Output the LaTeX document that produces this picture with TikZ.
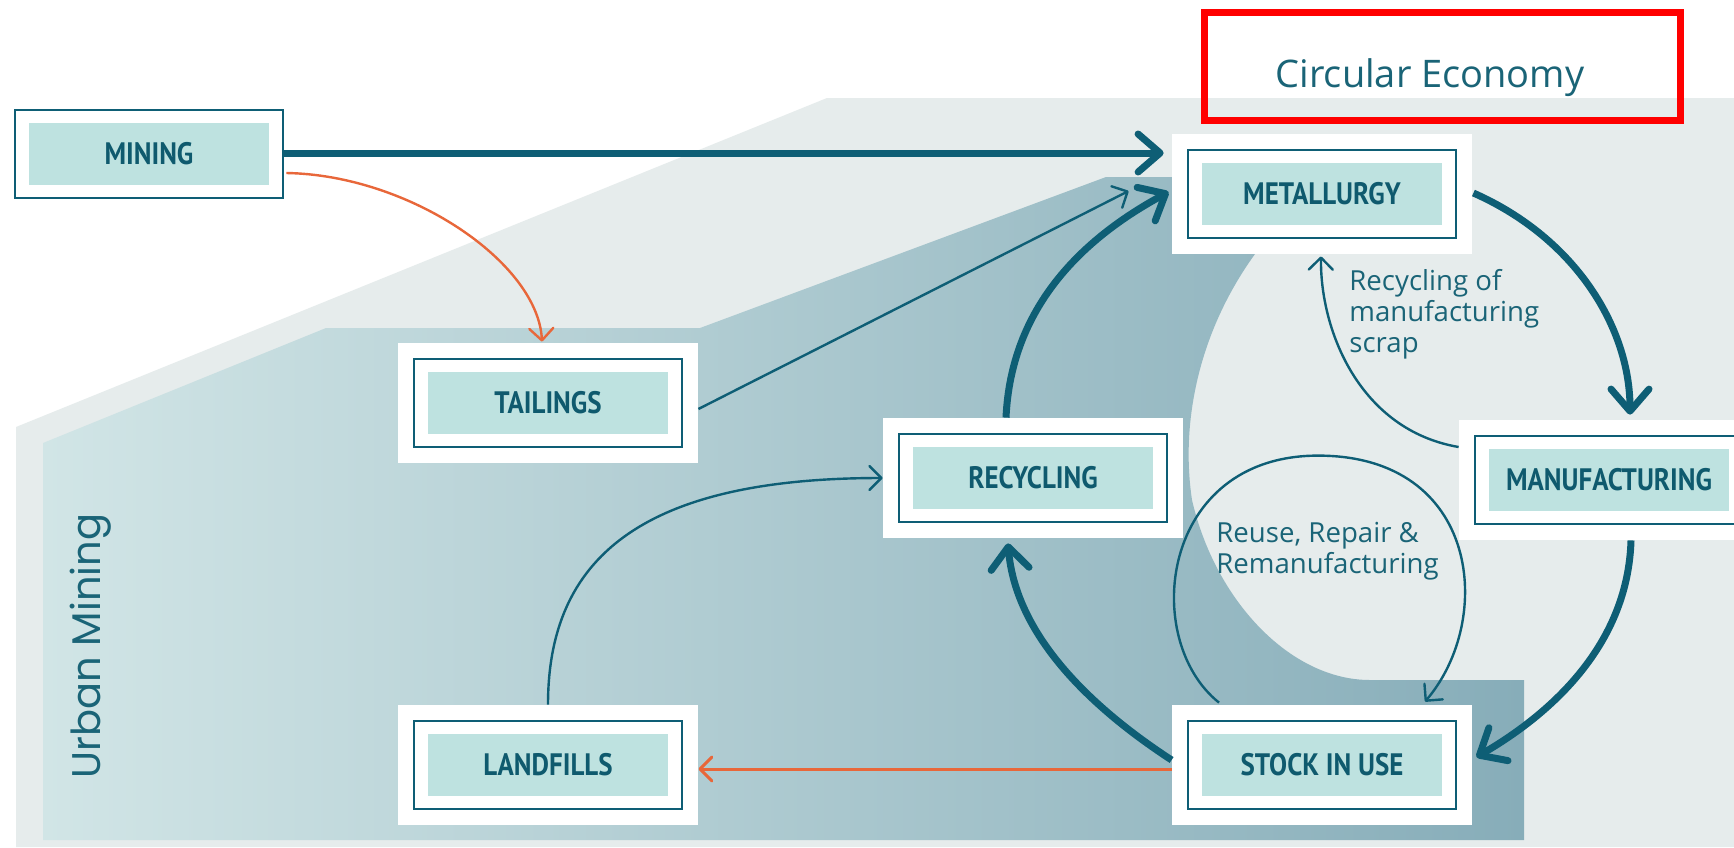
\documentclass[tikz,border=0pt]{standalone}
\usepackage{fontspec}
\setmainfont{Open Sans}
\newfontfamily\boxfont[FakeStretch=0.87]{PT Sans}
\newfontfamily\umfont{Poppins}
\usetikzlibrary{arrows.meta,calc}
\definecolor{dteal}{HTML}{0E5E75}
\definecolor{tealtext}{HTML}{0F5A6E}
\definecolor{boxfill}{HTML}{BEE2E0}
\definecolor{lgrey}{HTML}{E6ECEC}
\definecolor{tealL}{HTML}{D1E5E6}
\definecolor{tealR}{HTML}{87ADB9}
\definecolor{orng}{HTML}{E8673A}
\definecolor{lblue}{HTML}{1A6477}
\definecolor{redframe}{HTML}{FF0000}
\begin{document}
\begin{tikzpicture}[x=0.5pt,y=-0.5pt,
  procbox/.style={fill=white, minimum width=150pt, minimum height=60pt, inner sep=0pt,
    text=tealtext, font=\boxfont\bfseries\fontsize{15.5}{17}\selectfont,
    path picture={
      \fill[boxfill] ([shift={(15pt,14.5pt)}]path picture bounding box.south west) rectangle ([shift={(-15pt,-14.5pt)}]path picture bounding box.north east);
      \draw[dteal, line width=1.3pt] ([shift={(8pt,8pt)}]path picture bounding box.south west) rectangle ([shift={(-8pt,-8pt)}]path picture bounding box.north east);
    }},
  bigarrow/.style={draw=dteal, line width=3.5pt, -{Straight Barb[length=11pt,width=19pt,round]}},
  thinarrow/.style={draw=dteal, line width=1.2pt, -{Straight Barb[length=6pt,width=12pt,round]}},
  orangearrow/.style={draw=orng, line width=1.2pt, -{Straight Barb[length=6pt,width=12pt,round]}},
  annot/.style={text=lblue, font=\fontsize{13.8}{15.5}\selectfont, align=left, inner sep=0pt}
]
\useasboundingbox (0,0) rectangle (1734,847);
\clip (0,0) rectangle (1734,847);
\fill[white] (0,0) rectangle (1734,847);
% light grey circular economy area
\fill[lgrey] (16,427) -- (827,98) -- (1734,98) -- (1734,847) -- (16,847) -- cycle;
% urban mining area
\shade[left color=tealL, right color=tealR]
  (43,443) -- (326,328) -- (700,328) -- (1106,177) -- (1255,177) -- (1255,254)
  .. controls (1200,330) and (1180,420) .. (1192,500)
  .. controls (1215,600) and (1290,680) .. (1370,680)
  -- (1524,680) -- (1524,840) -- (43,840) -- cycle;
% title frame
\draw[redframe, line width=3.5pt] (1204,12) rectangle (1680,120);
\node[text=lblue, font=\fontsize{19}{22}\selectfont, anchor=base, inner sep=0pt] (ce) at (1430,87) {Circular Economy};
\node[text=lblue, font=\umfont\fontsize{20}{24}\selectfont, rotate=90, anchor=base, inner sep=0pt] (um) at (100,646) {Urban Mining};
% boxes
\node[procbox] (mining) at (149,154) {MINING};
\node[procbox] (tailings) at (548,403) {TAILINGS};
\node[procbox] (metallurgy) at (1322,194) {METALLURGY};
\node[procbox] (recycling) at (1033,478) {RECYCLING};
\node[procbox] (manufacturing) at (1609,480) {MANUFACTURING};
\node[procbox] (landfills) at (548,765) {LANDFILLS};
\node[procbox] (stock) at (1322,765) {STOCK IN USE};
% labels
\node[annot, anchor=base west] (scraplbl) at (1349,352) {Recycling of\\manufacturing\\scrap};
\node[annot, anchor=base west] (reuselbl) at (1216,573) {Reuse, Repair \&\\Remanufacturing};
% connectors
\draw[bigarrow] ($(mining.east)+(-15,-1)$) -- ($(metallurgy.west)+(-8,-41)$);
\draw[orangearrow] ($(mining.east)+(-13,19)$) .. controls ($(mining.east)+(110,21)$) and ($(tailings.north)+(-10,-80)$) .. ($(tailings.north)+(-6,-1)$);
\draw[thinarrow] ($(tailings.east)+(0,6)$) -- ($(metallurgy.west)+(-43,-3)$);
\draw[bigarrow] ($(recycling.north)+(-27,0)$) .. controls ($(recycling.north)+(-22,-110)$) and ($(metallurgy.west)+(-90,45)$) .. ($(metallurgy.west)+(-3,-2)$);
\draw[bigarrow] ($(metallurgy.east)+(1,-1)$) .. controls ($(metallurgy.east)+(105,45)$) and ($(manufacturing.north)+(21,-90)$) .. ($(manufacturing.north)+(21,-5)$);
\draw[bigarrow] ($(manufacturing.south)+(22,0)$) .. controls ($(manufacturing.south)+(19,100)$) and ($(stock.east)+(85,-55)$) .. ($(stock.east)+(4,-8)$);
\draw[bigarrow] ($(stock.west)+(0,-5)$) .. controls ($(stock.west)+(-92,-65)$) and ($(recycling.south)+(-18,90)$) .. ($(recycling.south)+(-25,5)$);
\draw[orangearrow, line width=1.5pt] ($(stock.west)+(0,4)$) -- ($(landfills.east)+(0,4)$);
\draw[thinarrow] (landfills.north) .. controls ($(landfills.north)+(0,-145)$) and ($(recycling.west)+(-243,0)$) .. (recycling.west);
\draw[thinarrow] ($(manufacturing.west)+(0,-33)$) .. controls ($(manufacturing.west)+(-99,-50)$) and ($(metallurgy.south)+(-2,76)$) .. ($(metallurgy.south)+(-1,2)$);
\draw[thinarrow] ($(stock.north)+(-103,-2)$) .. controls ($(stock.north)+(-182,-65)$) and ($(stock.north)+(-162,-249)$) .. ($(stock.north)+(-4,-249)$)
  .. controls ($(stock.north)+(158,-249)$) and ($(stock.north)+(173,-85)$) .. ($(stock.north)+(103,-3)$);
\end{tikzpicture}
\end{document}
